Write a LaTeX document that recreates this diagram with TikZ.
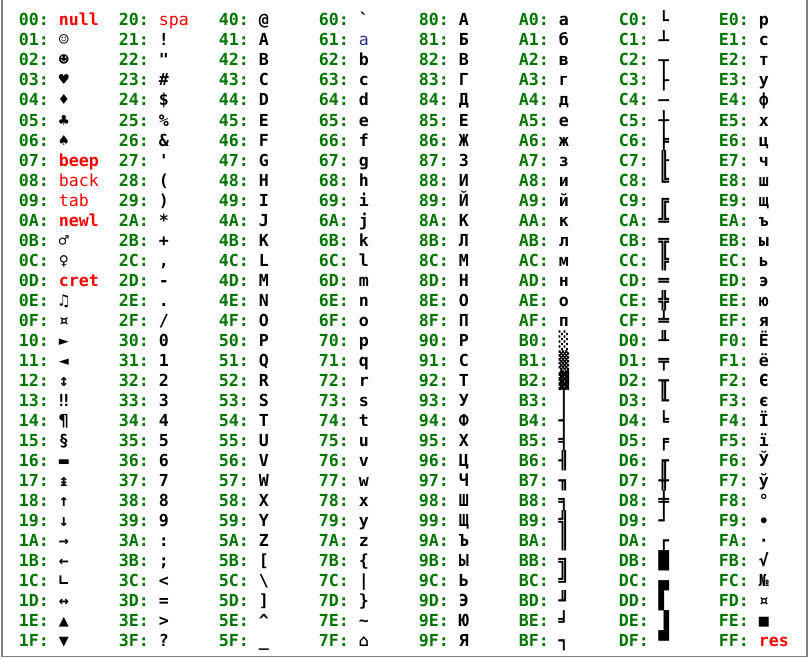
\documentclass[tikz,border=0pt]{standalone}
\usepackage{fontspec}
\setmonofont{DejaVu Sans Mono}
\newfontfamily\boxfont{DejaVu Sans Mono}[FakeBold=3]
\definecolor{labgreen}{RGB}{0,118,0}
\definecolor{ctlred}{RGB}{255,0,0}
\definecolor{tblue}{RGB}{40,50,140}
\definecolor{frame}{RGB}{128,128,128}
\tikzset{
  lab/.style={anchor=base west,inner sep=0pt,outer sep=0pt,text=labgreen,font=\ttfamily\bfseries\fontsize{16.6}{20}\selectfont},
  chr/.style={anchor=base west,inner sep=0pt,outer sep=0pt,text=black,font=\ttfamily\bfseries\fontsize{16.6}{20}\selectfont},
  bx/.style={chr,font=\boxfont\fontsize{16.6}{20}\selectfont},
  ctl/.style={chr,text=ctlred},
  ctlthin/.style={chr,text=ctlred,font=\ttfamily\mdseries\fontsize{16.6}{20}\selectfont},
  thin/.style={chr,text=tblue,font=\ttfamily\mdseries\fontsize{16.6}{20}\selectfont},
  winframe/.style={draw=frame,line width=1.5pt}
}
\newcommand\cellx[5][chr]{%
  \node[lab] (l#4) at ({18.8+100*#2},{-26-20*#3}) {#4:};
  \node[#1] (c#4) at ({58.8+100*#2},{-26-20*#3}) {#5};
}
\begin{document}
\begin{tikzpicture}[x=1pt,y=1pt]
\useasboundingbox (0,0) rectangle (810,-658);
\fill[white] (0,0) rectangle (810,-658);
\draw[winframe] (2,0) -- (2,-656.5) -- (807,-656.5) -- (807,0);
% column 0
\cellx[ctl]{0}{0}{00}{null}
\cellx{0}{1}{01}{☺}
\cellx{0}{2}{02}{☻}
\cellx{0}{3}{03}{♥}
\cellx{0}{4}{04}{♦}
\cellx{0}{5}{05}{♣}
\cellx{0}{6}{06}{♠}
\cellx[ctl]{0}{7}{07}{beep}
\cellx[ctlthin]{0}{8}{08}{back}
\cellx[ctlthin]{0}{9}{09}{tab}
\cellx[ctl]{0}{10}{0A}{newl}
\cellx{0}{11}{0B}{♂}
\cellx{0}{12}{0C}{♀}
\cellx[ctl]{0}{13}{0D}{cret}
\cellx{0}{14}{0E}{♫}
\cellx{0}{15}{0F}{¤}
\cellx{0}{16}{10}{►}
\cellx{0}{17}{11}{◄}
\cellx{0}{18}{12}{↕}
\cellx{0}{19}{13}{‼}
\cellx{0}{20}{14}{¶}
\cellx{0}{21}{15}{§}
\cellx{0}{22}{16}{▬}
\cellx{0}{23}{17}{↨}
\cellx{0}{24}{18}{↑}
\cellx{0}{25}{19}{↓}
\cellx{0}{26}{1A}{→}
\cellx{0}{27}{1B}{←}
\cellx{0}{28}{1C}{∟}
\cellx{0}{29}{1D}{↔}
\cellx{0}{30}{1E}{▲}
\cellx{0}{31}{1F}{▼}
% column 1
\cellx[ctlthin]{1}{0}{20}{spa}
\cellx{1}{1}{21}{!}
\cellx{1}{2}{22}{"}
\cellx{1}{3}{23}{\#}
\cellx{1}{4}{24}{\$}
\cellx{1}{5}{25}{\%}
\cellx{1}{6}{26}{\&}
\cellx{1}{7}{27}{'}
\cellx{1}{8}{28}{(}
\cellx{1}{9}{29}{)}
\cellx{1}{10}{2A}{*}
\cellx{1}{11}{2B}{+}
\cellx{1}{12}{2C}{,}
\cellx{1}{13}{2D}{-}
\cellx{1}{14}{2E}{.}
\cellx{1}{15}{2F}{/}
\cellx{1}{16}{30}{0}
\cellx{1}{17}{31}{1}
\cellx{1}{18}{32}{2}
\cellx{1}{19}{33}{3}
\cellx{1}{20}{34}{4}
\cellx{1}{21}{35}{5}
\cellx{1}{22}{36}{6}
\cellx{1}{23}{37}{7}
\cellx{1}{24}{38}{8}
\cellx{1}{25}{39}{9}
\cellx{1}{26}{3A}{:}
\cellx{1}{27}{3B}{;}
\cellx{1}{28}{3C}{<}
\cellx{1}{29}{3D}{=}
\cellx{1}{30}{3E}{>}
\cellx{1}{31}{3F}{?}
% column 2
\cellx{2}{0}{40}{@}
\cellx{2}{1}{41}{A}
\cellx{2}{2}{42}{B}
\cellx{2}{3}{43}{C}
\cellx{2}{4}{44}{D}
\cellx{2}{5}{45}{E}
\cellx{2}{6}{46}{F}
\cellx{2}{7}{47}{G}
\cellx{2}{8}{48}{H}
\cellx{2}{9}{49}{I}
\cellx{2}{10}{4A}{J}
\cellx{2}{11}{4B}{K}
\cellx{2}{12}{4C}{L}
\cellx{2}{13}{4D}{M}
\cellx{2}{14}{4E}{N}
\cellx{2}{15}{4F}{O}
\cellx{2}{16}{50}{P}
\cellx{2}{17}{51}{Q}
\cellx{2}{18}{52}{R}
\cellx{2}{19}{53}{S}
\cellx{2}{20}{54}{T}
\cellx{2}{21}{55}{U}
\cellx{2}{22}{56}{V}
\cellx{2}{23}{57}{W}
\cellx{2}{24}{58}{X}
\cellx{2}{25}{59}{Y}
\cellx{2}{26}{5A}{Z}
\cellx{2}{27}{5B}{[}
\cellx{2}{28}{5C}{\textbackslash}
\cellx{2}{29}{5D}{]}
\cellx{2}{30}{5E}{\textasciicircum}
\cellx{2}{31}{5F}{\_}
% column 3
\cellx{3}{0}{60}{`}
\cellx[thin]{3}{1}{61}{a}
\cellx{3}{2}{62}{b}
\cellx{3}{3}{63}{c}
\cellx{3}{4}{64}{d}
\cellx{3}{5}{65}{e}
\cellx{3}{6}{66}{f}
\cellx{3}{7}{67}{g}
\cellx{3}{8}{68}{h}
\cellx{3}{9}{69}{i}
\cellx{3}{10}{6A}{j}
\cellx{3}{11}{6B}{k}
\cellx{3}{12}{6C}{l}
\cellx{3}{13}{6D}{m}
\cellx{3}{14}{6E}{n}
\cellx{3}{15}{6F}{o}
\cellx{3}{16}{70}{p}
\cellx{3}{17}{71}{q}
\cellx{3}{18}{72}{r}
\cellx{3}{19}{73}{s}
\cellx{3}{20}{74}{t}
\cellx{3}{21}{75}{u}
\cellx{3}{22}{76}{v}
\cellx{3}{23}{77}{w}
\cellx{3}{24}{78}{x}
\cellx{3}{25}{79}{y}
\cellx{3}{26}{7A}{z}
\cellx{3}{27}{7B}{\{}
\cellx{3}{28}{7C}{|}
\cellx{3}{29}{7D}{\}}
\cellx{3}{30}{7E}{\textasciitilde}
\cellx{3}{31}{7F}{⌂}
% column 4
\cellx{4}{0}{80}{А}
\cellx{4}{1}{81}{Б}
\cellx{4}{2}{82}{В}
\cellx{4}{3}{83}{Г}
\cellx{4}{4}{84}{Д}
\cellx{4}{5}{85}{Е}
\cellx{4}{6}{86}{Ж}
\cellx{4}{7}{87}{З}
\cellx{4}{8}{88}{И}
\cellx{4}{9}{89}{Й}
\cellx{4}{10}{8A}{К}
\cellx{4}{11}{8B}{Л}
\cellx{4}{12}{8C}{М}
\cellx{4}{13}{8D}{Н}
\cellx{4}{14}{8E}{О}
\cellx{4}{15}{8F}{П}
\cellx{4}{16}{90}{Р}
\cellx{4}{17}{91}{С}
\cellx{4}{18}{92}{Т}
\cellx{4}{19}{93}{У}
\cellx{4}{20}{94}{Ф}
\cellx{4}{21}{95}{Х}
\cellx{4}{22}{96}{Ц}
\cellx{4}{23}{97}{Ч}
\cellx{4}{24}{98}{Ш}
\cellx{4}{25}{99}{Щ}
\cellx{4}{26}{9A}{Ъ}
\cellx{4}{27}{9B}{Ы}
\cellx{4}{28}{9C}{Ь}
\cellx{4}{29}{9D}{Э}
\cellx{4}{30}{9E}{Ю}
\cellx{4}{31}{9F}{Я}
% column 5
\cellx{5}{0}{A0}{а}
\cellx{5}{1}{A1}{б}
\cellx{5}{2}{A2}{в}
\cellx{5}{3}{A3}{г}
\cellx{5}{4}{A4}{д}
\cellx{5}{5}{A5}{е}
\cellx{5}{6}{A6}{ж}
\cellx{5}{7}{A7}{з}
\cellx{5}{8}{A8}{и}
\cellx{5}{9}{A9}{й}
\cellx{5}{10}{AA}{к}
\cellx{5}{11}{AB}{л}
\cellx{5}{12}{AC}{м}
\cellx{5}{13}{AD}{н}
\cellx{5}{14}{AE}{о}
\cellx{5}{15}{AF}{п}
\cellx[bx]{5}{16}{B0}{░}
\cellx[bx]{5}{17}{B1}{▒}
\cellx[bx]{5}{18}{B2}{▓}
\cellx[bx]{5}{19}{B3}{│}
\cellx[bx]{5}{20}{B4}{┤}
\cellx[bx]{5}{21}{B5}{╡}
\cellx[bx]{5}{22}{B6}{╢}
\cellx[bx]{5}{23}{B7}{╖}
\cellx[bx]{5}{24}{B8}{╕}
\cellx[bx]{5}{25}{B9}{╣}
\cellx[bx]{5}{26}{BA}{║}
\cellx[bx]{5}{27}{BB}{╗}
\cellx[bx]{5}{28}{BC}{╝}
\cellx[bx]{5}{29}{BD}{╜}
\cellx[bx]{5}{30}{BE}{╛}
\cellx[bx]{5}{31}{BF}{┐}
% column 6
\cellx[bx]{6}{0}{C0}{└}
\cellx[bx]{6}{1}{C1}{┴}
\cellx[bx]{6}{2}{C2}{┬}
\cellx[bx]{6}{3}{C3}{├}
\cellx[bx]{6}{4}{C4}{─}
\cellx[bx]{6}{5}{C5}{┼}
\cellx[bx]{6}{6}{C6}{╞}
\cellx[bx]{6}{7}{C7}{╟}
\cellx[bx]{6}{8}{C8}{╚}
\cellx[bx]{6}{9}{C9}{╔}
\cellx[bx]{6}{10}{CA}{╩}
\cellx[bx]{6}{11}{CB}{╦}
\cellx[bx]{6}{12}{CC}{╠}
\cellx[bx]{6}{13}{CD}{═}
\cellx[bx]{6}{14}{CE}{╬}
\cellx[bx]{6}{15}{CF}{╧}
\cellx[bx]{6}{16}{D0}{╨}
\cellx[bx]{6}{17}{D1}{╤}
\cellx[bx]{6}{18}{D2}{╥}
\cellx[bx]{6}{19}{D3}{╙}
\cellx[bx]{6}{20}{D4}{╘}
\cellx[bx]{6}{21}{D5}{╒}
\cellx[bx]{6}{22}{D6}{╓}
\cellx[bx]{6}{23}{D7}{╫}
\cellx[bx]{6}{24}{D8}{╪}
\cellx[bx]{6}{25}{D9}{┘}
\cellx[bx]{6}{26}{DA}{┌}
\cellx[bx]{6}{27}{DB}{█}
\cellx[bx]{6}{28}{DC}{▄}
\cellx[bx]{6}{29}{DD}{▌}
\cellx[bx]{6}{30}{DE}{▐}
\cellx[bx]{6}{31}{DF}{▀}
% column 7
\cellx{7}{0}{E0}{р}
\cellx{7}{1}{E1}{с}
\cellx{7}{2}{E2}{т}
\cellx{7}{3}{E3}{у}
\cellx{7}{4}{E4}{ф}
\cellx{7}{5}{E5}{х}
\cellx{7}{6}{E6}{ц}
\cellx{7}{7}{E7}{ч}
\cellx{7}{8}{E8}{ш}
\cellx{7}{9}{E9}{щ}
\cellx{7}{10}{EA}{ъ}
\cellx{7}{11}{EB}{ы}
\cellx{7}{12}{EC}{ь}
\cellx{7}{13}{ED}{э}
\cellx{7}{14}{EE}{ю}
\cellx{7}{15}{EF}{я}
\cellx{7}{16}{F0}{Ё}
\cellx{7}{17}{F1}{ё}
\cellx{7}{18}{F2}{Є}
\cellx{7}{19}{F3}{є}
\cellx{7}{20}{F4}{Ї}
\cellx{7}{21}{F5}{ї}
\cellx{7}{22}{F6}{Ў}
\cellx{7}{23}{F7}{ў}
\cellx{7}{24}{F8}{°}
\cellx{7}{25}{F9}{∙}
\cellx{7}{26}{FA}{·}
\cellx{7}{27}{FB}{√}
\cellx{7}{28}{FC}{№}
\cellx{7}{29}{FD}{¤}
\cellx{7}{30}{FE}{■}
\cellx[ctl]{7}{31}{FF}{res}
\end{tikzpicture}
\end{document}
